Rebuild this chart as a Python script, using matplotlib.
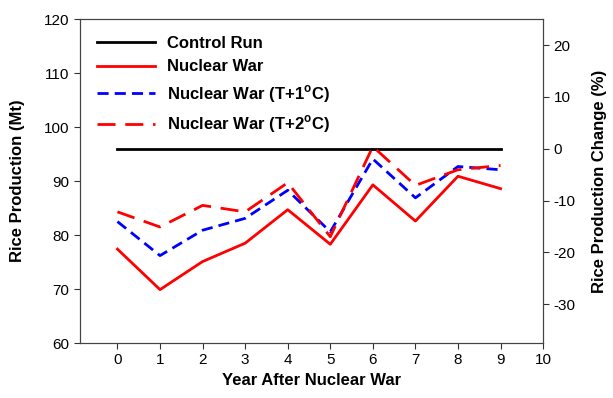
import matplotlib.pyplot as plt
import numpy as np

plt.rcParams['font.family'] = ['Liberation Sans', 'DejaVu Sans']
plt.rcParams['axes.unicode_minus'] = False
plt.rcParams['mathtext.fontset'] = 'custom'
plt.rcParams['mathtext.rm'] = 'Liberation Sans:bold'

years = np.arange(0, 10)
control = [96.0] * 10
nuclear = [77.4, 69.9, 75.1, 78.5, 84.7, 78.3, 89.3, 82.6, 90.9, 88.6]
nuclear_t1 = [82.5, 76.2, 80.9, 83.1, 88.3, 80.6, 94.1, 86.9, 92.7, 92.1]
nuclear_t2 = [84.3, 81.5, 85.5, 84.3, 89.7, 79.7, 96.4, 89.2, 92.1, 92.9]
base = 96.0

fig = plt.figure(figsize=(6.13, 3.98), dpi=100)
ax = fig.add_axes([0.1305, 0.138, 0.7555, 0.814])

ax.plot(years, control, color='black', lw=2, label='Control Run')
ax.plot(years, nuclear, color='red', lw=2, label='Nuclear War')
ax.plot(years, nuclear_t1, color='blue', lw=2, dashes=(4, 2.2), label='Nuclear War (T+1$^{\\rm o}$C)')
ax.plot(years, nuclear_t2, color='red', lw=2, dashes=(6.5, 3.5), label='Nuclear War (T+2$^{\\rm o}$C)')

ax.set_xlim(-0.88, 10)
ax.set_ylim(60, 120)
ax.set_xticks(range(0, 11))
ax.set_yticks(range(60, 121, 10))
ax.tick_params(direction='out', length=4, labelsize=11, colors='#333333')
ax.tick_params(axis='both', labelcolor='black')
for s in ax.spines.values():
    s.set_color('#444444')

ax.set_xlabel('Year After Nuclear War', fontsize=12, fontweight='bold', labelpad=4)
ax.set_ylabel('Rice Production (Mt)', fontsize=12, fontweight='bold', labelpad=14)

# right axis: percent change relative to the control run
ax2 = ax.twinx()
ax2.set_ylim((60 / base - 1) * 100, (120 / base - 1) * 100)
ax2.set_yticks(range(-30, 21, 10))
ax2.tick_params(direction='out', length=4, labelsize=11, colors='#333333', labelcolor='black')
for s in ax2.spines.values():
    s.set_color('#444444')
ax2.set_ylabel('Rice Production Change (%)', fontsize=12, fontweight='bold', labelpad=12)

leg = ax.legend(loc='upper left', frameon=False, handlelength=3.5, handletextpad=0.7,
                labelspacing=0.52, borderaxespad=0.6,
                prop={'size': 12, 'weight': 'bold'}, bbox_to_anchor=(0.0, 1.0))

fig.savefig('out.png', dpi=100)
